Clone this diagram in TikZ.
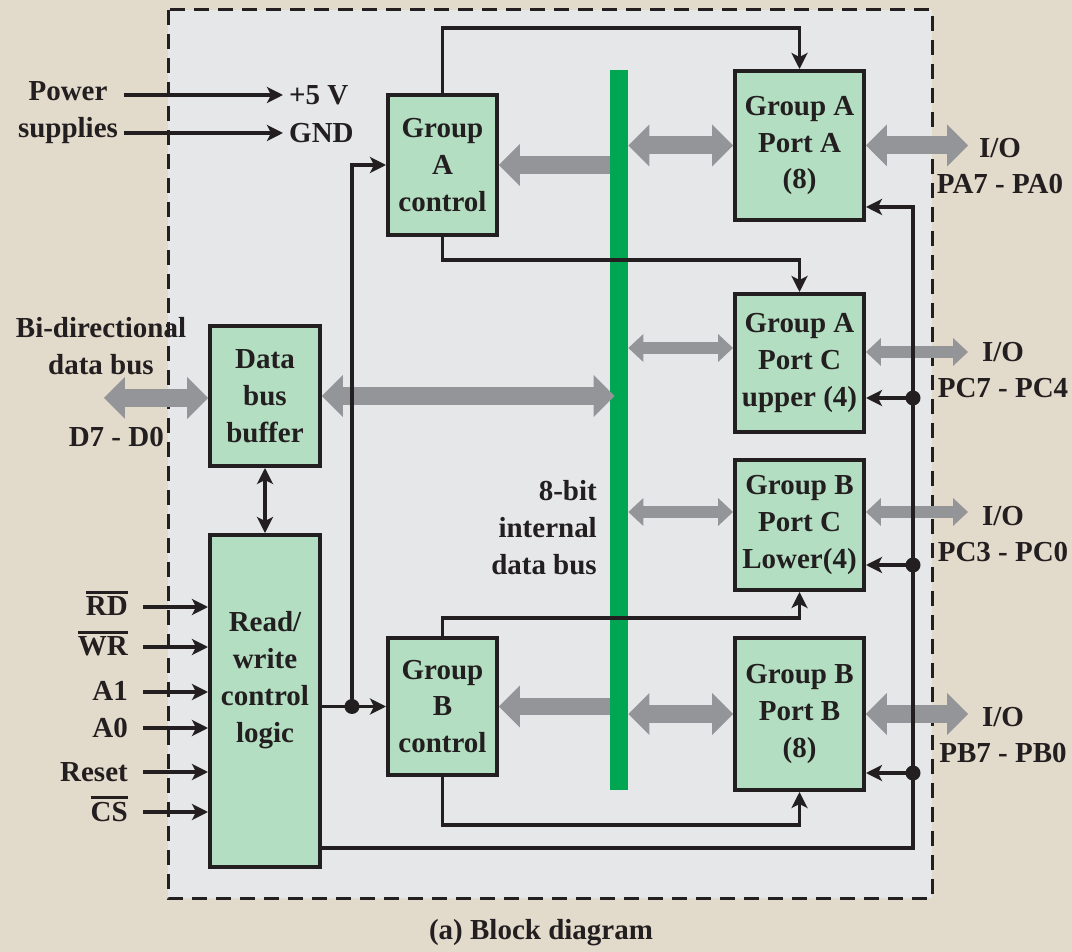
\documentclass[tikz,border=0pt]{standalone}
\usepackage{fontspec}
\setmainfont{Liberation Serif}
\usepackage{tikz}
\usetikzlibrary{arrows.meta,calc}
\definecolor{paper}{HTML}{E2DACB}
\definecolor{panel}{HTML}{E6E7E8}
\definecolor{boxfill}{HTML}{B3DEC1}
\definecolor{busgreen}{HTML}{00A651}
\definecolor{busgray}{HTML}{939598}
\definecolor{ink}{HTML}{231F20}
\newcommand{\ovl}[1]{\leavevmode\vbox{\hrule height 1.4pt\kern 1.8pt\hbox{#1}}}

\begin{document}
\begin{tikzpicture}[x=0.02cm, y=-0.02cm, font=\bfseries\fontsize{16.5}{21}\selectfont, text=ink,
    blk/.style={draw=ink, line width=0.08cm, fill=boxfill, inner sep=0pt, align=center},
    wire/.style={draw=ink, line width=0.07cm},
    arr/.style={-{Stealth[length=0.32cm, width=0.32cm, inset=0.08cm]}},
    arrs/.style={{Stealth[length=0.32cm, width=0.32cm, inset=0.08cm]}-{Stealth[length=0.32cm, width=0.32cm, inset=0.08cm]}},
    fat/.style={draw=busgray, line width=0.36cm, -{Triangle[length=0.42cm, width=0.84cm, line width=0pt]}},
    fatboth/.style={draw=busgray, line width=0.36cm, {Triangle[length=0.42cm, width=0.84cm, line width=0pt]}-{Triangle[length=0.42cm, width=0.84cm, line width=0pt]}},
    slim/.style={draw=busgray, line width=0.24cm, {Triangle[length=0.3cm, width=0.56cm, line width=0pt]}-{Triangle[length=0.3cm, width=0.56cm, line width=0pt]}},
    jdot/.style={circle, fill=ink, inner sep=0pt, minimum size=0.3cm}]

  % background and chip outline
  \fill[paper] (0,0) rectangle (1072,952);
  \useasboundingbox (0,0) rectangle (1072,952);
  \draw[ink, line width=0.06cm, dash pattern=on 0.3cm off 0.18cm, fill=panel] (168,10) rectangle (932,898);

  % internal bus
  \node[fill=busgreen, inner sep=0pt, minimum width=0.36cm, minimum height=14.4cm] (bus) at (619,430) {};
  \coordinate (busL) at ([xshift=0.1cm]bus.west);
  \coordinate (ioedge) at (968,0);

  % blocks
  \node[blk, minimum width=2.18cm, minimum height=2.8cm] (gac) at (442.5,165) {Group\\A\\control};
  \node[blk, minimum width=2.58cm, minimum height=2.98cm] (pa) at (799.5,145.5) {Group A\\Port A\\(8)};
  \node[blk, minimum width=2.58cm, minimum height=2.76cm] (pcu) at (799.5,363) {Group A\\Port C\\upper (4)};
  \node[blk, minimum width=2.58cm, minimum height=2.6cm] (pcl) at (799.5,525) {Group B\\Port C\\Lower(4)};
  \node[blk, minimum width=2.58cm, minimum height=3.04cm] (pb) at (799.5,714) {Group B\\Port B\\(8)};
  \node[blk, minimum width=2.18cm, minimum height=2.74cm] (gbc) at (442.5,706.5) {Group\\B\\control};
  \node[blk, minimum width=2.2cm, minimum height=2.8cm] (dbb) at (265,396) {Data\\bus\\buffer};
  \node[blk, minimum width=2.2cm, minimum height=6.64cm] (rw) at (265,701) {};
  \node[align=center] (rwtxt) at (265,680) {Read/\\write\\control\\logic};

  % labels
  \node[align=center] (pwr) at (68,113) {Power\\supplies};
  \node[anchor=west] (vcc) at (283,95) {+5 V};
  \node[anchor=west] (gnd) at (283,133) {GND};
  \node[align=center] (bidir) at (101,346) {Bi-directional\\data bus};
  \node[anchor=east] (dlab) at (170,437) {D7 - D0};
  \node[align=right, anchor=east] (ilab) at (603,528) {8-bit\\internal\\data bus};
  \node[align=center] (ioa) at (1000,166) {I/O\\PA7 - PA0};
  \node[align=center] (iocu) at (1003,370) {I/O\\PC7 - PC4};
  \node[align=center] (iocl) at (1003,534) {I/O\\PC3 - PC0};
  \node[align=center] (iob) at (1003,735) {I/O\\PB7 - PB0};
  \node (cap) at (541,933) {(a) Block diagram};

  % gray data paths
  \coordinate (dext) at (104,398);
  \draw[fatboth] (dext) -- (dext -| dbb.west);
  \draw[fatboth] (dbb.east) -- (busL |- dbb.east);
  \draw[fat] (bus.west |- gac.east) -- (gac.east);
  \draw[fat] (bus.west |- gbc.east) -- (gbc.east);
  \coordinate (pcuL) at ([yshift=0.3cm]pcu.west);
  \coordinate (pclL) at ([yshift=0.26cm]pcl.west);
  \coordinate (pcuR) at ([yshift=0.22cm]pcu.east);
  \coordinate (pclR) at ([yshift=0.26cm]pcl.east);
  \draw[fatboth] (bus.east |- pa.west) -- (pa.west);
  \draw[slim] (bus.east |- pcuL) -- (pcuL);
  \draw[slim] (bus.east |- pclL) -- (pclL);
  \draw[fatboth] (bus.east |- pb.west) -- (pb.west);
  \draw[fatboth] (pa.east) -- (pa.east -| ioedge);
  \draw[slim] (pcuR) -- (pcuR -| ioedge);
  \draw[slim] (pclR) -- (pclR -| ioedge);
  \draw[fatboth] (pb.east) -- (pb.east -| ioedge);

  % power
  \draw[wire, arr] (pwr.east |- vcc.west) -- (vcc.west);
  \draw[wire, arr] (pwr.east |- gnd.west) -- (gnd.west);

  % control inputs
  \foreach \y/\sig [count=\i] in {607/{\ovl{RD}}, 647/{\ovl{WR}}, 692/A1, 728/A0, 772/Reset, 812/{\ovl{CS}}}{
    \coordinate (in\i) at (143,\y);
    \node[anchor=base east] (sig\i) at (134,\y+9) {\sig};
    \draw[wire, arr] (in\i) -- (in\i -| rw.west);
  }
  \draw[wire, arrs] (dbb.south) -- (rw.north);

  % group controls
  \draw[wire, arr] (gac.north) |- (pa.north |- 0,28) -- (pa.north);
  \draw[wire, arr] (gac.south) |- (pcu.north |- 0,260) -- (pcu.north);
  \draw[wire, arr] (gbc.north) |- (pcl.south |- 0,618) -- (pcl.south);
  \draw[wire, arr] (gbc.south) |- (pb.south |- 0,825) -- (pb.south);

  \node[jdot] (jb) at (352,706.5) {};
  \draw[wire, arr] (rw.east |- jb) -- (gbc.west);
  \draw[wire, arr] (jb.center) |- (gac.west);

  % port control lines
  \coordinate (rbot) at (913,848);
  \draw[wire, arr] (rw.east |- rbot) -- (rbot) |- ([yshift=-1.23cm]pa.east);
  \node[jdot] (jcu) at (913,398) {};
  \node[jdot] (jcl) at (913,565) {};
  \node[jdot] (jpb) at (913,773) {};
  \draw[wire, arr] (jcu.center) -- (jcu -| pcu.east);
  \draw[wire, arr] (jcl.center) -- (jcl -| pcl.east);
  \draw[wire, arr] (jpb.center) -- (jpb -| pb.east);
\end{tikzpicture}
\end{document}
